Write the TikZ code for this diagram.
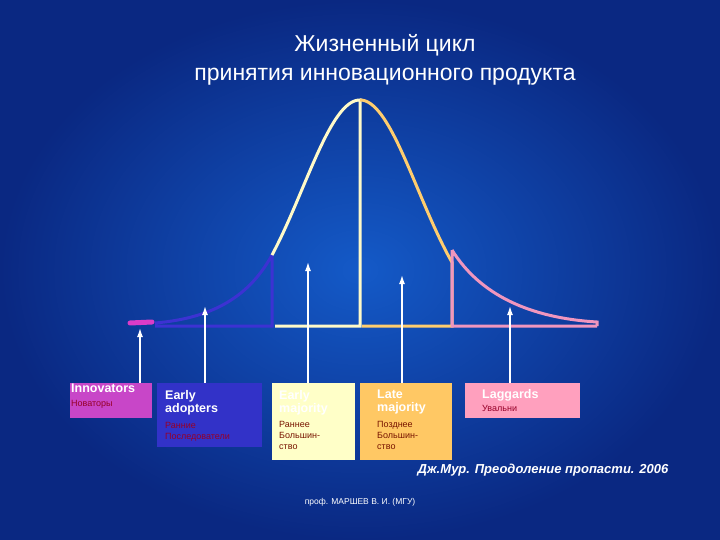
\documentclass[tikz,border=0pt]{standalone}
\usepackage{fontspec}
\setmainfont{Liberation Sans}
\usetikzlibrary{arrows.meta}
\definecolor{cblue}{RGB}{60,50,210}
\definecolor{cmag}{RGB}{220,60,200}
\definecolor{cyel}{RGB}{255,250,200}
\definecolor{corg}{RGB}{255,205,110}
\definecolor{cpink}{RGB}{240,150,190}
\definecolor{bgin}{RGB}{20,90,200}
\definecolor{bgout}{RGB}{10,40,130}
\definecolor{darkred}{RGB}{150,0,40}
\definecolor{brownred}{RGB}{120,20,0}
\begin{document}
\begin{tikzpicture}[x=1pt,y=-1pt,
  lbl/.style={anchor=north west,inner sep=2pt,align=left,text width=#1},
  bigtxt/.style={font=\fontsize{12.5}{13}\selectfont\bfseries,text=white},
  sm/.style={font=\fontsize{9}{11}\selectfont},
  arr/.style={white,line width=1.4pt,-{Latex[length=9pt,width=6pt]}},
  cv/.style={line width=3pt}]
\useasboundingbox (0,0) rectangle (720,540);
\shade[inner color=bgin,outer color=bgout] (0,0) rectangle (720,540);
\node[text=white,font=\fontsize{23}{29}\selectfont,align=center] (title) at (385,60) {Жизненный цикл\\принятия инновационного продукта};
% boxes
\fill[fill={rgb,255:red,200;green,70;blue,200}] (70,383) rectangle (152,418);
\node[lbl=78pt,bigtxt,inner sep=1pt] (t1) at (70,383) {Innovators};
\node[lbl=78pt,sm,text=darkred,inner sep=1pt] (s1) at (70,399) {Новаторы};
\fill[fill={rgb,255:red,50;green,50;blue,200}] (157,383) rectangle (262,447);
\node[lbl=100pt,bigtxt] (t2) at (163,388) {Early\\adopters};
\node[lbl=100pt,sm,text=darkred] (s2) at (163,420) {Ранние\\Последователи};
\fill[fill={rgb,255:red,255;green,255;blue,200}] (272,383) rectangle (355,460);
\node[lbl=80pt,bigtxt] (t3) at (277,388) {Early\\majority};
\node[lbl=80pt,sm,text=brownred] (s3) at (277,419) {Раннее\\Большин-\\ство};
\fill[fill={rgb,255:red,255;green,200;blue,100}] (360,383) rectangle (452,460);
\node[lbl=88pt,bigtxt] (t4) at (375,388) {Late\\majority};
\node[lbl=88pt,sm,text=brownred] (s4) at (375,419) {Позднее\\Большин-\\ство};
\fill[fill={rgb,255:red,255;green,160;blue,190}] (465,383) rectangle (580,418);
\node[lbl=110pt,bigtxt] (t5) at (480,387) {Laggards};
\node[lbl=110pt,sm,text=darkred] (s5) at (480,403) {Увальни};
% curve
\draw[cv,cblue] (155,323) .. controls (215,318) and (250,295) .. (272,255) -- (272,326) -- (155,326);
\draw[line width=5pt,line cap=round,cmag] (130,323) -- (152,322);
\draw[cv,cyel] plot[domain=272:360,samples=40] (\x,{326-226*exp(-((\x-360)^2)/(2*57.8^2))}) -- (360,326) -- (275,326);
\draw[cv,corg] plot[domain=360:452,samples=40] (\x,{326-226*exp(-((\x-360)^2)/(2*57.8^2))}) -- (452,326) -- (362,326);
\draw[cv,cpink] (452,250) .. controls (480,295) and (530,318) .. (597,322) -- (597,326) (452,250) -- (452,326) -- (597,326);
% arrows
\coordinate (a1) at (140,328); \coordinate (a2) at (205,306); \coordinate (a3) at (308,262);
\coordinate (a4) at (402,275); \coordinate (a5) at (510,306);
\draw[arr] (140,383) -- (a1);
\draw[arr] (205,383) -- (a2);
\draw[arr] (308,383) -- (a3);
\draw[arr] (402,383) -- (a4);
\draw[arr] (510,383) -- (a5);
\node[text=white,font=\fontsize{13}{15}\selectfont\bfseries\itshape] (src) at (543,470) {Дж.Мур. Преодоление пропасти. 2006};
\node[text=white,font=\fontsize{8.5}{10}\selectfont] (auth) at (360,502) {проф. МАРШЕВ В. И. (МГУ)};
\end{tikzpicture}
\end{document}
